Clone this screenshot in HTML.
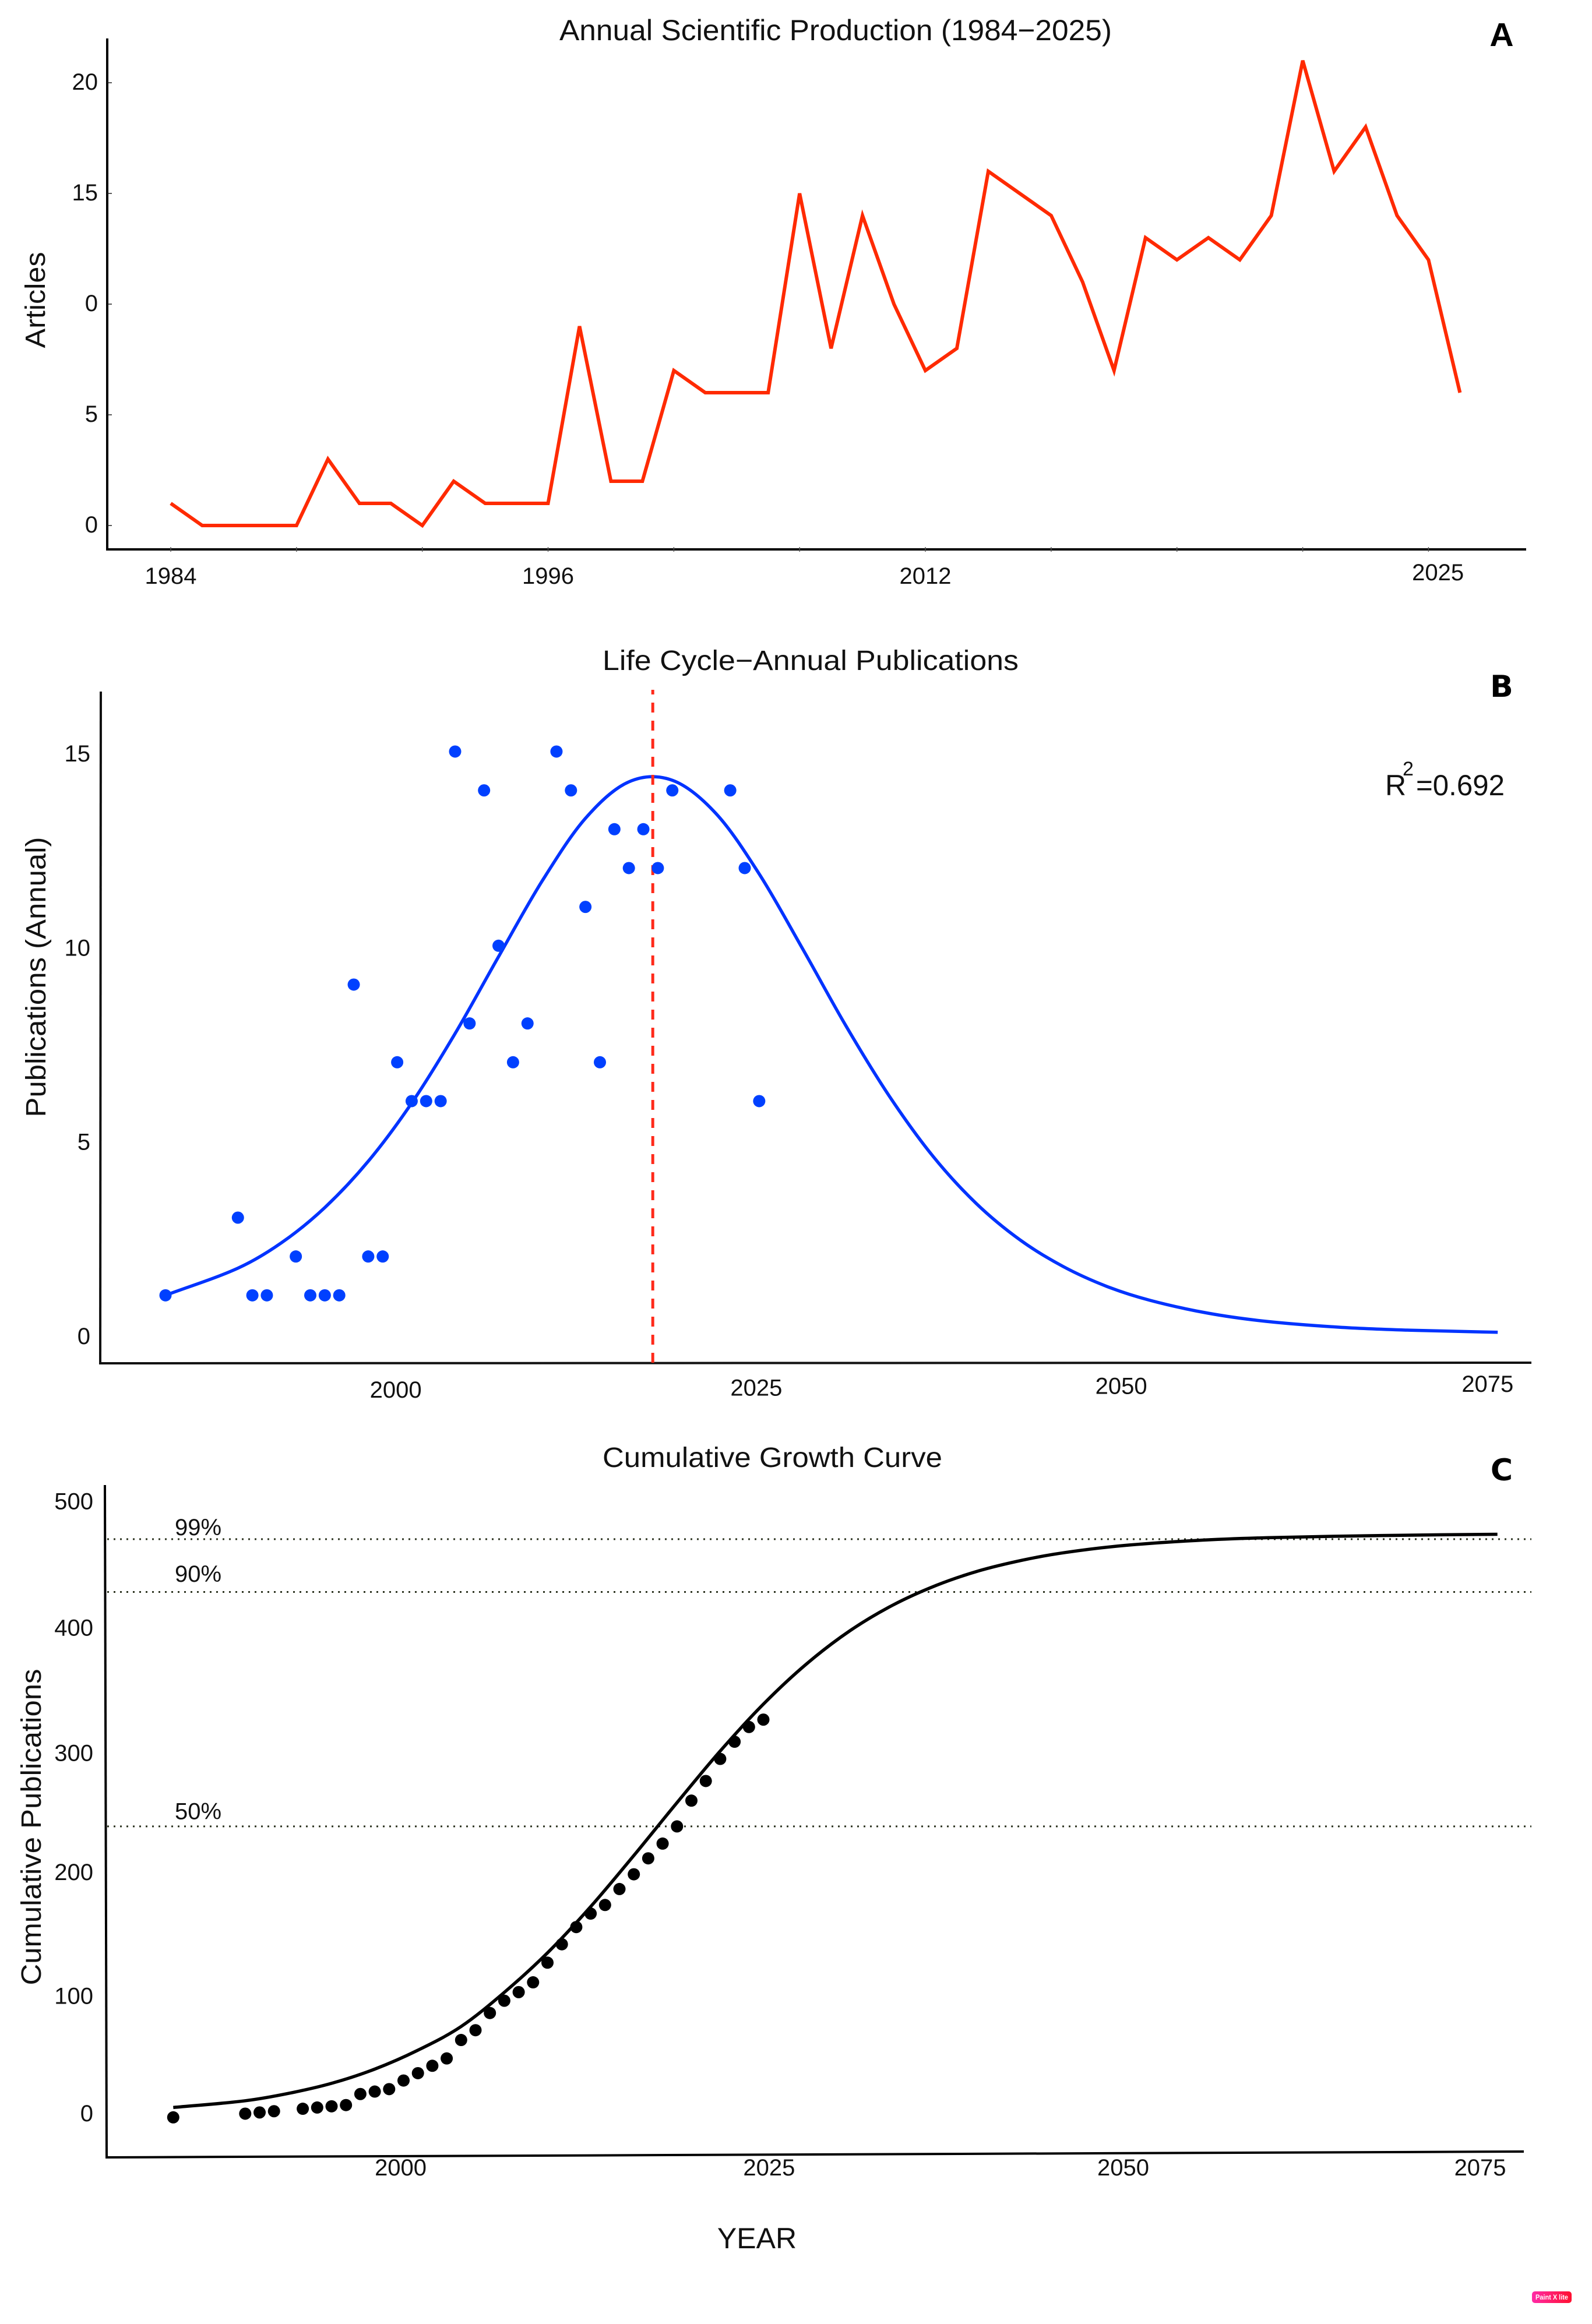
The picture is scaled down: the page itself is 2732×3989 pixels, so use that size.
<!DOCTYPE html>
<html lang="en">
<head>
<meta charset="utf-8">
<title>Annual Scientific Production, Life Cycle and Cumulative Growth</title>
<style>
html,body{margin:0;padding:0;background:#fff;}
svg{display:block;}
text{font-family:"Liberation Sans",Arial,sans-serif;fill:#111;}
.title{font-size:48px;}
.axt{font-size:48px;}
.tick{font-size:40px;}
.letter{font-family:"DejaVu Sans","Liberation Sans",sans-serif;font-weight:bold;font-size:52px;fill:#000;}
</style>
</head>
<body>
<svg id="fig" xmlns="http://www.w3.org/2000/svg" width="2732" height="3989" viewBox="0 0 2732 3989">
  <defs>
    <linearGradient id="badgeGrad" x1="0" x2="1" y1="0" y2="0">
      <stop offset="0" stop-color="#ff2aa6"/>
      <stop offset="1" stop-color="#ff1030"/>
    </linearGradient>
  </defs>
  <rect width="2732" height="3989" fill="#fff"/>

  <g>
    <line x1="184" y1="66" x2="184" y2="943" stroke="#000" stroke-width="4"/>
    <line x1="182" y1="943" x2="2619" y2="943" stroke="#000" stroke-width="4"/>
    <text class="title" x="960" y="69" textLength="948" lengthAdjust="spacingAndGlyphs" style="font-size:50px">Annual Scientific Production (1984−2025)</text>
    <text class="axt" transform="translate(77,515) rotate(-90)" text-anchor="middle" textLength="165" lengthAdjust="spacingAndGlyphs">Articles</text>
    <text x="2577" y="79" text-anchor="middle" style="font-weight:bold;font-size:57px;fill:#000">A</text>
    <g id="a-ticks"></g>
    <g id="a-marks"></g>
  </g>

  <g>
    <line x1="173" y1="1187" x2="172" y2="2340" stroke="#111" stroke-width="4"/>
    <line x1="170" y1="2340" x2="2628" y2="2339" stroke="#111" stroke-width="4"/>
    <text class="title" x="1034" y="1150" textLength="714" lengthAdjust="spacingAndGlyphs">Life Cycle−Annual Publications</text>
    <text class="axt" transform="translate(78,1677) rotate(-90)" text-anchor="middle" textLength="481" lengthAdjust="spacingAndGlyphs">Publications (Annual)</text>
    <text class="letter" x="2577" y="1196" text-anchor="middle">B</text>
    <g>
      <text x="2377" y="1365" style="font-size:50px">R</text>
      <text x="2407" y="1331" style="font-size:34px">2</text>
      <text x="2430" y="1365" style="font-size:50px" textLength="152" lengthAdjust="spacingAndGlyphs">=0.692</text>
    </g>
    <g id="b-ticks"></g>
    <g id="b-marks"></g>
  </g>

  <g>
    <line x1="180" y1="2549" x2="183" y2="3703" stroke="#000" stroke-width="4"/>
    <line x1="181" y1="3703" x2="2615" y2="3693" stroke="#000" stroke-width="4"/>
    <text class="title" x="1034" y="2518" textLength="583" lengthAdjust="spacingAndGlyphs">Cumulative Growth Curve</text>
    <text class="axt" transform="translate(70,3136) rotate(-90)" text-anchor="middle" textLength="543" lengthAdjust="spacingAndGlyphs">Cumulative Publications</text>
    <text class="letter" x="2577" y="2541" text-anchor="middle">C</text>
    <text x="1299" y="3859" text-anchor="middle" style="font-size:50px">YEAR</text>
    <g id="c-ticks"></g>
    <g id="c-marks"></g>
  </g>

  <g>
    <rect x="2629" y="3933" width="68" height="20" rx="5" fill="url(#badgeGrad)"/>
    <text x="2663" y="3947" text-anchor="middle" textLength="56" lengthAdjust="spacingAndGlyphs" style="font-size:12px;font-weight:bold;fill:#fff">Paint X lite</text>
  </g>
</svg>

<script>
// ---------- Panel A data ----------
const yearsA = [1984,1985,1986,1987,1988,1989,1990,1991,1992,1993,1994,1995,1996,1997,1998,1999,2000,2001,2002,2003,2004,2005,2006,2007,2008,2009,2010,2011,2012,2013,2014,2015,2016,2017,2018,2019,2020,2021,2022,2023,2024,2025];
const articlesA = [1,0,0,0,0,3,1,1,0,2,1,1,1,9,2,2,7,6,6,6,15,8,14,10,7,8,16,15,14,11,7,13,12,13,12,14,21,16,18,14,12,6];
const yTickValuesA = [20,15,10,5,0];
const yTickLabelsA = ['20','15','0','5','0'];
const xTickYearsA = [1984,1988,1992,1996,2000,2004,2008,2012,2016,2020,2024];
const xLabelYearsA = [1984,1996,2008,2024.3];
const xLabelsA = ['1984','1996','2012','2025'];

// ---------- Panel B data ----------
const yearsB = [1984,1989,1990,1991,1993,1994,1995,1996,1997,1998,1999,2000,2001,2002,2003,2004,2005,2006,2007,2008,2009,2011,2012,2013,2014,2015,2016,2017,2018,2019,2023,2024,2025];
const publicationsB = [1,3,1,1,2,1,1,1,9,2,2,7,6,6,6,15,8,14,10,7,8,15,14,11,7,13,12,13,12,14,14,12,6];
const curveYearsB = [1984,1989,1992,1995,1998,2001,2004,2007,2010,2013,2016,2019,2022,2025,2028,2031,2034,2037,2040,2043,2046,2049,2052,2056,2060,2065,2070,2076];
const curveValuesB = [1,1.7,2.35,3.26,4.45,5.95,7.74,9.72,11.66,13.28,14.22,14.26,13.41,11.85,9.92,7.93,6.12,4.58,3.36,2.43,1.74,1.23,0.87,0.54,0.33,0.18,0.1,0.05];
const peakYearB = 2017.65;
const yTickValuesB = [15,10,5,0];
const yTickLabelsB = ['15','10','5','0'];
const xLabelYearsB = [1999.9,2024.8,2050,2075.3];
const xLabelsB = ['2000','2025','2050','2075'];

// ---------- Panel C data ----------
const yearsC = [1984,1989,1990,1991,1993,1994,1995,1996,1997,1998,1999,2000,2001,2002,2003,2004,2005,2006,2007,2008,2009,2010,2011,2012,2013,2014,2015,2016,2017,2018,2019,2020,2021,2022,2023,2024,2025];
const cumulativeC = [1,4,5,6,8,9,10,11,20,22,24,31,37,43,49,64,72,86,96,103,111,127,142,156,167,174,187,199,212,224,238,259,275,293,307,319,325];
const curveYearsC = [1984,1989,1992,1995,1998,2001,2004,2007,2010,2013,2016,2019,2022,2025,2028,2031,2034,2037,2040,2043,2046,2050,2055,2060,2068,2076];
const curveValuesC = [9,14.5,20.5,28.7,40.3,55.7,75,102.8,135,172.6,214.3,257.4,299.4,337.6,370.4,397.3,418.3,434.3,446.3,454.9,461.2,466.8,470.9,473.2,475,476];
const thresholdValuesC = [472,429,238];
const thresholdLabelsC = ['99%','90%','50%'];
const thresholdLabelValuesC = [482,444,250.5];
const yTickLabelValuesC = [503,400,298,201,100,4.5];
const yTickLabelsC = ['500','400','300','200','100','0'];
const xLabelYearsC = [1999.8,2025.4,2050,2074.8];
const xLabelsC = ['2000','2025','2050','2075'];

// ---------- Axis functions ----------
function xA(year){ return 293 + (year - 1984) * 53.96; }
function yA(v){ return 902 - v * 38; }
function xB(year){ return 284 + (year - 1984) * 24.85; }
function yB(v){ return 2290 - v * 66.67; }
function xC(year){ return 297.3 + (year - 1984) * 24.7; }
function yC(v){ return 3636.4 - v * 2.107; }

const NS = 'http://www.w3.org/2000/svg';
function mk(tag, parent, attrs){
  const el = document.createElementNS(NS, tag);
  for (const k in attrs) el.setAttribute(k, attrs[k]);
  parent.appendChild(el);
  return el;
}
function linePath(xs, ys){
  return xs.map(function(x, i){ return (i ? 'L' : 'M') + x.toFixed(1) + ' ' + ys[i].toFixed(1); }).join(' ');
}
function smoothPath(xs, ys){
  let d = 'M' + xs[0].toFixed(1) + ' ' + ys[0].toFixed(1);
  for (let i = 0; i < xs.length - 1; i++){
    const p0 = Math.max(i - 1, 0), p3 = Math.min(i + 2, xs.length - 1);
    const h = xs[i + 1] - xs[i];
    const m1 = (ys[i + 1] - ys[p0]) / (xs[i + 1] - xs[p0]);
    const m2 = (ys[p3] - ys[i]) / (xs[p3] - xs[i]);
    const c1x = xs[i] + h / 3, c1y = ys[i] + m1 * h / 3;
    const c2x = xs[i + 1] - h / 3, c2y = ys[i + 1] - m2 * h / 3;
    d += ' C' + c1x.toFixed(1) + ' ' + c1y.toFixed(1) + ' ' + c2x.toFixed(1) + ' ' + c2y.toFixed(1) + ' ' + xs[i + 1].toFixed(1) + ' ' + ys[i + 1].toFixed(1);
  }
  return d;
}

const aTicks = document.getElementById('a-ticks');
const aMarks = document.getElementById('a-marks');
const bTicks = document.getElementById('b-ticks');
const bMarks = document.getElementById('b-marks');
const cTicks = document.getElementById('c-ticks');
const cMarks = document.getElementById('c-marks');

// ---------- Panel A ----------
yTickValuesA.forEach(function(v, i){
  const t = mk('line', aTicks, {x1:184, x2:192, y1:yA(v), y2:yA(v), stroke:'#222', 'stroke-width':1.5});
  
  
  const l = mk('text', aTicks, {x:168, y:yA(v) - 2, dy:'0.35em', 'text-anchor':'end', class:'tick'});
  l.textContent = yTickLabelsA[i];
  
  
});
xTickYearsA.forEach(function(yr){
  const t = mk('line', aTicks, {x1:xA(yr), x2:xA(yr), y1:939, y2:947, stroke:'#555', 'stroke-width':1.5});
  
  
});
xLabelsA.forEach(function(txt, i){
  const raise = i === xLabelsA.length - 1 ? 6 : 0;
  const l = mk('text', aTicks, {x:xA(xLabelYearsA[i]), y:988 - raise, dy:'0.35em', 'text-anchor':'middle', class:'tick'});
  l.textContent = txt;
  
  
});
const lineA = mk('path', aMarks, {d:linePath(yearsA.map(xA), articlesA.map(yA)), fill:'none', stroke:'#ff2a00', 'stroke-width':6, 'stroke-linejoin':'miter'});



// ---------- Panel B ----------
yTickValuesB.forEach(function(v, i){
  const l = mk('text', bTicks, {x:155, y:yB(v) + 3, dy:'0.35em', 'text-anchor':'end', class:'tick'});
  l.textContent = yTickLabelsB[i];
  
  
});
xLabelsB.forEach(function(txt, i){
  const l = mk('text', bTicks, {x:xB(xLabelYearsB[i]), y:2385 - i * 3.3, dy:'0.35em', 'text-anchor':'middle', class:'tick'});
  l.textContent = txt;
  
  
});
const curveB = mk('path', bMarks, {d:smoothPath(curveYearsB.map(xB), curveValuesB.map(yB)), fill:'none', stroke:'#0033ff', 'stroke-width':5.5});


const peakB = mk('line', bMarks, {x1:xB(peakYearB), x2:xB(peakYearB), y1:1184, y2:2340, stroke:'#ff2a1a', 'stroke-width':5, 'stroke-dasharray':'17 14', 'stroke-dashoffset':9});


yearsB.forEach(function(yr, i){
  const c = mk('circle', bMarks, {cx:xB(yr), cy:yB(publicationsB[i]), r:10.5, fill:'#0040ff'});
  
  
});

// ---------- Panel C ----------
yTickLabelsC.forEach(function(txt, i){
  const l = mk('text', cTicks, {x:160, y:yC(yTickLabelValuesC[i]), dy:'0.35em', 'text-anchor':'end', class:'tick'});
  l.textContent = txt;
  
  
});
xLabelsC.forEach(function(txt, i){
  const l = mk('text', cTicks, {x:xC(xLabelYearsC[i]), y:3720, dy:'0.35em', 'text-anchor':'middle', class:'tick'});
  l.textContent = txt;
  
  
});
thresholdValuesC.forEach(function(v, i){
  const d = mk('line', cMarks, {x1:184, x2:2628, y1:yC(v), y2:yC(v), stroke:'#2c3320', 'stroke-width':3, 'stroke-dasharray':'3 8'});
  
  
  const l = mk('text', cMarks, {x:300, y:yC(thresholdLabelValuesC[i]), dy:'0.35em', class:'tick'});
  l.textContent = thresholdLabelsC[i];
  
  
});
const curveC = mk('path', cMarks, {d:smoothPath(curveYearsC.map(xC), curveValuesC.map(yC)), fill:'none', stroke:'#000', 'stroke-width':5.5});


yearsC.forEach(function(yr, i){
  const c = mk('circle', cMarks, {cx:xC(yr), cy:yC(cumulativeC[i]), r:10.5, fill:'#000'});
  
  
});
</script>
</body>
</html>
